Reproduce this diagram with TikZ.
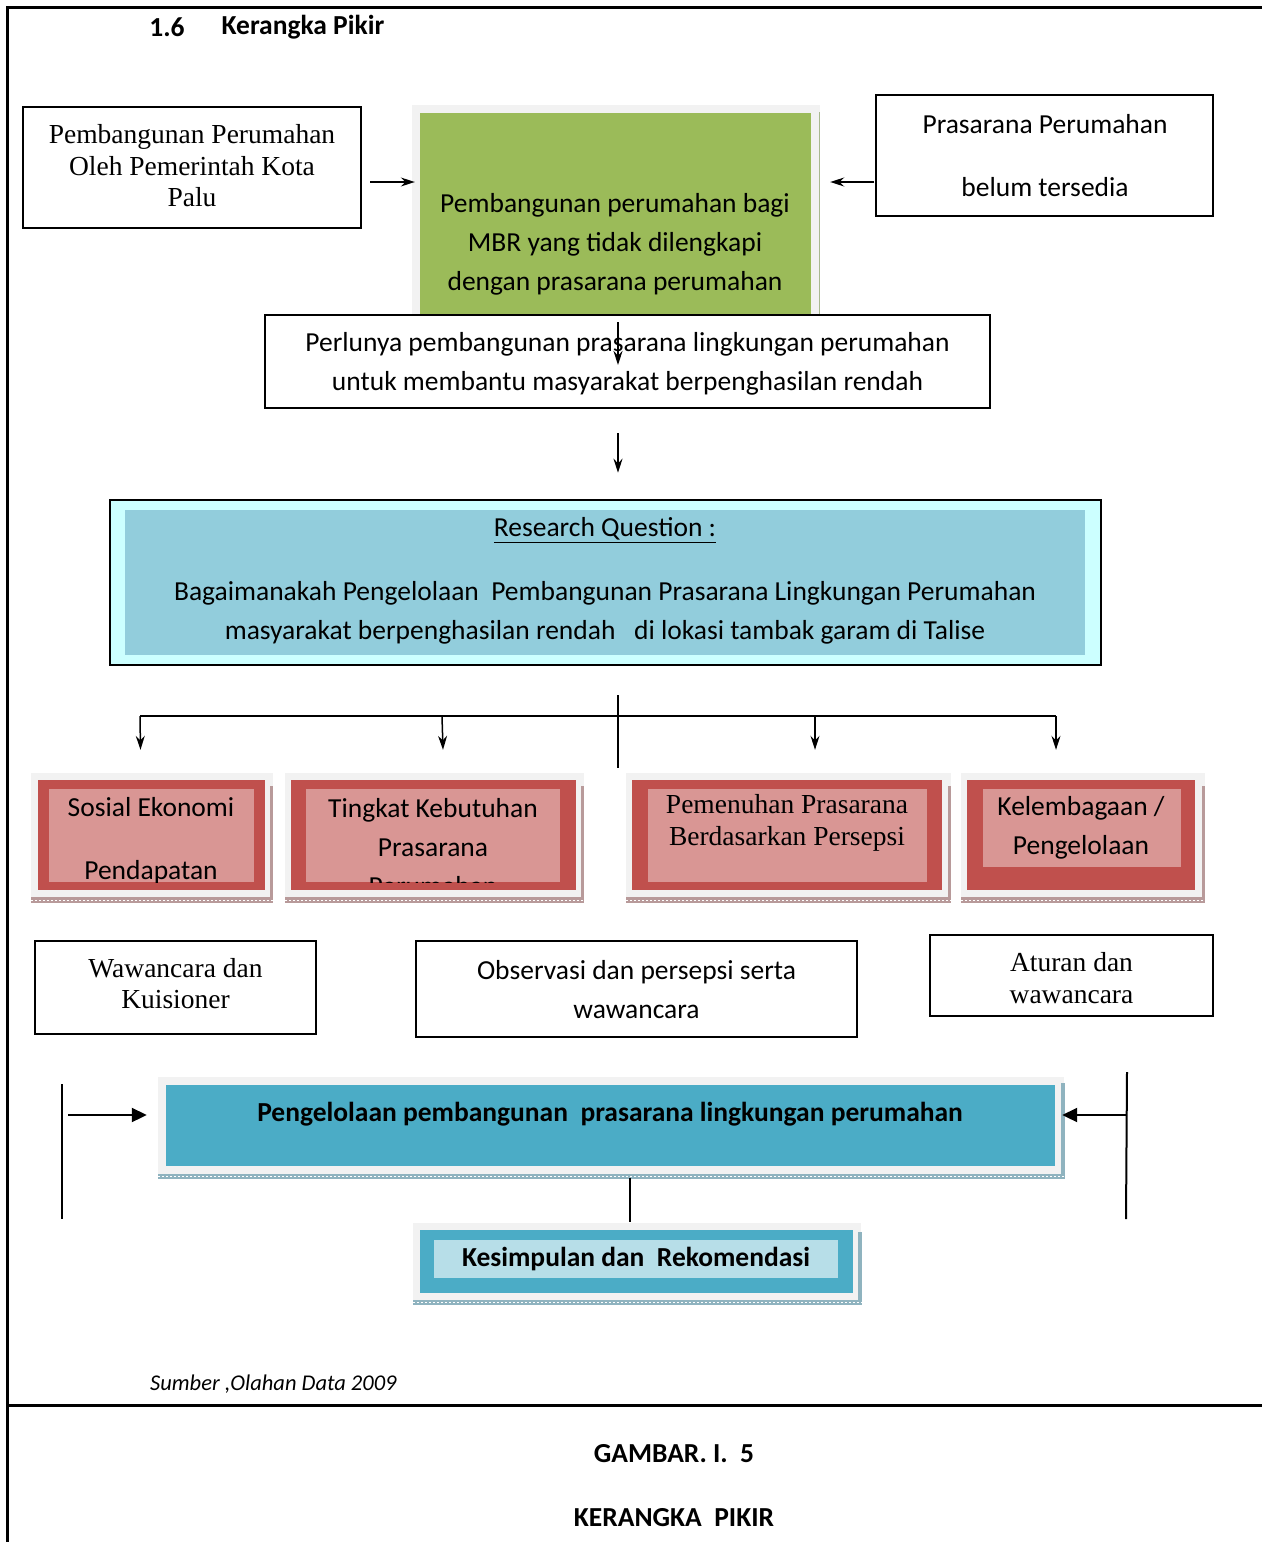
\documentclass[tikz,border=0pt]{standalone}
\usepackage{fontspec}
\setmainfont{Carlito}
\newfontfamily\serifA{Liberation Serif}
\usetikzlibrary{arrows.meta}
\definecolor{gframe}{HTML}{F2F2F2}
\definecolor{greenf}{HTML}{9BBB59}
\definecolor{cyanout}{HTML}{CCFFFF}
\definecolor{rqfill}{HTML}{92CDDC}
\definecolor{redout}{HTML}{C0504D}
\definecolor{pinkin}{HTML}{D99694}
\definecolor{bluef}{HTML}{4BACC6}
\definecolor{lblue}{HTML}{B7DEE8}
\definecolor{hatchR}{HTML}{B89A9A}
\definecolor{hatchB}{HTML}{8FB3BF}
\definecolor{hatchG}{HTML}{A8B890}
\begin{document}
\begin{tikzpicture}[x=1pt,y=-1pt,
  txt/.style={font=\fontsize{27.5}{39}\selectfont, align=center, inner sep=0, yshift=-2pt},
  bold/.style={font=\bfseries\fontsize{27.5}{39}\selectfont, align=center, inner sep=0, yshift=-1.5pt},
  sertxt/.style={font=\serifA\fontsize{27.5}{31.5}\selectfont, align=center, inner sep=0},
  plainbox/.style={draw, line width=2pt, fill=white, inner sep=0},
  fillbox/.style={inner sep=0, draw=none},
  arr/.style={-{Stealth[length=14pt,width=9pt]}, line width=1.5pt},
  bigarr/.style={-{Triangle[length=15pt,width=14pt]}, line width=2pt},
  conn/.style={line width=1.5pt},
  hatch/.style={line width=1pt, dash pattern=on 2pt off 2pt},
]
\useasboundingbox (0,0) rectangle (1262,1542);

% page frame
\draw[line width=3pt] (7,1542) -- (7,7) -- (1262,7);
\draw[line width=3pt] (7,1405) -- (1262,1405);
\node[bold, anchor=center] (secnum) at (167,26) {1.6};
\node[bold, anchor=center] (sectitle) at (303,26) {Kerangka Pikir};

% top-left box
\node[plainbox, minimum width=338pt, minimum height=121pt] (boxA) at (192,167.5) {};
\node[sertxt] (boxAt) at (192,166) {Pembangunan Perumahan\\Oleh Pemerintah Kota\\Palu};

% green box
\node[fillbox, fill=gframe, minimum width=408pt, minimum height=210pt] (greenframe) at (616,210) {};
\draw[hatchG] (819,112) -- (819,315);
\node[fillbox, fill=greenf, minimum width=391pt, minimum height=202pt] (greenfill) at (615.5,214) {};
\node[txt] (greent) at (615,242) {Pembangunan perumahan bagi\\MBR yang tidak dilengkapi\\dengan prasarana perumahan};

% top-right box
\node[plainbox, minimum width=337pt, minimum height=121pt] (boxC) at (1044.5,155.5) {};
\node[font=\fontsize{27.5}{63}\selectfont, align=center, inner sep=0] (boxCt) at (1045,155.5) {Prasarana Perumahan\\belum tersedia};

\draw[arr] ([xshift=8pt,yshift=-14.5pt]boxA.east) -- ([xshift=3pt,yshift=28pt]greenframe.west);
\draw[arr] ([xshift=-1pt,yshift=-26.5pt]boxC.west) -- ([xshift=10pt,yshift=28pt]greenframe.east);

% box D
\node[plainbox, line width=2.5pt, minimum width=725pt, minimum height=93pt] (boxD) at (627.5,361.5) {};
\node[txt] (boxDt) at (627.5,361.5) {Perlunya pembangunan prasarana lingkungan perumahan\\untuk membantu masyarakat berpenghasilan rendah};
\draw[arr] ([xshift=2.5pt,yshift=-7pt]greenfill.south) -- ([xshift=-9.5pt,yshift=-3.5pt]boxD.center);

% research question
\node[draw, line width=2.5pt, fill=cyanout, inner sep=0, minimum width=991pt, minimum height=165pt] (rq) at (605.5,582.5) {};
\node[fillbox, fill=rqfill, minimum width=960pt, minimum height=145pt] (rqin) at (605,582.5) {};
\node[txt] (rqhead) at (605,528) {\underline{Research Question :}};
\node[txt] (rqt) at (605,610.5) {Bagaimanakah Pengelolaan\ \ Pembangunan Prasarana Lingkungan Perumahan\\masyarakat berpenghasilan rendah\ \ \ di lokasi tambak garam di Talise};
\draw[arr] ([xshift=-9.5pt,yshift=-24pt]boxD.south) -- ([xshift=12.5pt,yshift=26pt]rq.north);

% red boxes
\node[fillbox, fill=gframe, minimum width=242pt, minimum height=130pt] (r1f) at (152,838) {};
\node[fillbox, fill=gframe, minimum width=299pt, minimum height=130pt] (r2f) at (434.5,838) {};
\node[fillbox, fill=gframe, minimum width=325pt, minimum height=130pt] (r3f) at (788.5,838) {};
\node[fillbox, fill=gframe, minimum width=244pt, minimum height=130pt] (r4f) at (1083,838) {};
\foreach \a/\b in {31/273,285/584,626/951,961/1205}{
  \fill[hatchR] (\a,897) rectangle (\b,903);
  \fill[hatchR] (\b-3,786) rectangle (\b,903);
  \draw[hatch, white] (\a,900) -- (\b,900);
}
\node[fillbox, fill=redout, minimum width=227pt, minimum height=110pt] (r1) at (151.5,835) {};
\node[fillbox, fill=pinkin, minimum width=205pt, minimum height=93pt] (r1in) at (151.5,835.5) {};
\node[fillbox, fill=redout, minimum width=285pt, minimum height=110pt] (r2) at (433.5,835) {};
\node[fillbox, fill=pinkin, minimum width=254pt, minimum height=93pt] (r2in) at (433,835.5) {};
\node[fillbox, fill=redout, minimum width=310pt, minimum height=110pt] (r3) at (787,835) {};
\node[fillbox, fill=pinkin, minimum width=279pt, minimum height=93pt] (r3in) at (787.5,835.5) {};
\node[fillbox, fill=redout, minimum width=228pt, minimum height=110pt] (r4) at (1081,835) {};
\node[fillbox, fill=pinkin, minimum width=198pt, minimum height=78pt] (r4in) at (1082,828) {};
\begin{scope}
  \clip (49,789) rectangle (254,882);
  \node[font=\fontsize{27.5}{63}\selectfont, align=center, inner sep=0, yshift=-2pt] (r1t) at (151,838.5) {Sosial Ekonomi\\Pendapatan};
\end{scope}
\begin{scope}
  \clip (306,789) rectangle (560,882);
  \node[txt] (r2t) at (433,845) {Tingkat Kebutuhan\\Prasarana\\Perumahan};
\end{scope}
\node[sertxt] (r3t) at (787,823) {Pemenuhan Prasarana\\Berdasarkan Persepsi};
\node[txt] (r4t) at (1081,826) {Kelembagaan /\\Pengelolaan};

% tree connectors
\coordinate (hub) at (618,716);
\draw[conn] ([xshift=12.5pt,yshift=-29pt]rq.south) -- ([yshift=-52pt]hub);
\draw[conn] (140,716) -- (1056,716);
\draw[arr] (hub -| r1.center) ++(-11.5,0) -- ([xshift=-11.5pt,yshift=23pt]r1f.north);
\draw[arr] ([xshift=8.5pt]hub -| r2.center) -- ([xshift=8.5pt,yshift=23pt]r2f.north);
\draw[arr] ([xshift=28pt]hub -| r3.center) -- ([xshift=26.5pt,yshift=23pt]r3f.north);
\draw[arr] ([xshift=-25pt]hub -| r4.center) -- ([xshift=-27pt,yshift=23pt]r4f.north);

% method boxes
\node[plainbox, minimum width=281pt, minimum height=93pt] (w1) at (175.5,987.5) {};
\node[sertxt] (w1t) at (175.5,983.5) {Wawancara dan\\Kuisioner};
\node[plainbox, minimum width=441pt, minimum height=96pt] (w2) at (636.5,989) {};
\node[txt] (w2t) at (636.5,987.5) {Observasi dan persepsi serta\\wawancara};
\node[plainbox, minimum width=283pt, minimum height=81pt] (w3) at (1071.5,975.5) {};
\node[sertxt] (w3t) at (1071.5,978) {Aturan dan\\wawancara};

% result box
\node[fillbox, fill=gframe, minimum width=906pt, minimum height=101pt] (resf) at (611,1127.5) {};
\fill[hatchB] (158,1174) rectangle (1065,1179);
\fill[hatchB] (1061,1083) rectangle (1065,1179);
\draw[hatch, white] (158,1176.5) -- (1065,1176.5);
\node[fillbox, fill=bluef, minimum width=889pt, minimum height=81pt] (res) at (610.5,1125.5) {};
\node[bold] (rest) at (610,1113) {Pengelolaan pembangunan\ \ prasarana lingkungan perumahan};

\coordinate (lbar) at (62,1115);
\coordinate (rbar) at (1127,1115);
\draw[line width=2pt] (62,1084) -- (62,1219);
\draw[line width=2pt] (1127,1072) -- (1126,1219);
\draw[bigarr] ([xshift=6pt]lbar) -- ([xshift=-11pt,yshift=12.5pt]resf.west);
\draw[bigarr] (rbar) -- ([xshift=-2pt,yshift=12.5pt]resf.east);

% conclusion box
\node[fillbox, fill=gframe, minimum width=448pt, minimum height=82pt] (kf) at (637,1264) {};
\fill[hatchB] (413,1300) rectangle (862,1305);
\fill[hatchB] (858,1232) rectangle (862,1305);
\draw[hatch, white] (413,1302.5) -- (862,1302.5);
\node[fillbox, fill=bluef, minimum width=433pt, minimum height=63pt] (k) at (636.5,1261.5) {};
\node[fillbox, fill=lblue, minimum width=404pt, minimum height=38pt] (kin) at (636,1259) {};
\node[bold] (kt) at (636,1257) {Kesimpulan dan\ \ Rekomendasi};
\draw[conn] ([xshift=19.5pt]res.south |- resf.south) -- ([xshift=-7pt,yshift=1pt]kf.north);

% footer
\node[font=\itshape\fontsize{22.5}{27}\selectfont, anchor=west, inner sep=0, yshift=-1pt] (src) at (150,1383) {Sumber ,Olahan Data 2009};
\node[bold] (cap1) at (674,1452) {GAMBAR. I.\ \ 5};
\node[bold] (cap2) at (674,1516) {KERANGKA\ \ PIKIR};
\end{tikzpicture}
\end{document}
